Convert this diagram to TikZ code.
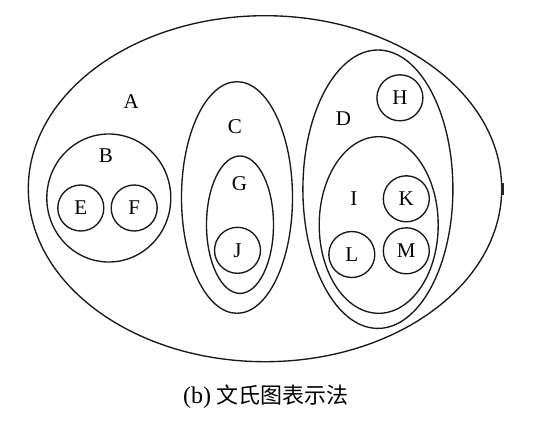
\documentclass[tikz,border=0pt]{standalone}
\usepackage{fontspec}
\setmainfont{Liberation Serif}
\newfontfamily\cjk{Noto Sans CJK SC}
\usetikzlibrary{shapes.geometric}
\begin{document}
\begin{tikzpicture}[x=1pt,y=-1pt,
  set/.style={draw=black!90,line width=1.35pt,ellipse,inner sep=0pt},
  lab/.style={font=\fontsize{21}{25}\selectfont,inner sep=0pt},
  leaf/.style={set,minimum width=46pt,minimum height=46pt,font=\fontsize{21}{25}\selectfont}]
\useasboundingbox (0,0) rectangle (544,426);
% outer set A
\node[set,minimum width=473.4pt,minimum height=346pt] (A) at (265,188.7) {};
\node[lab] (Alab) at (131.2,101.7) {A};
% B
\node[set,minimum width=124pt,minimum height=128pt] (B) at (108.8,198) {};
\node[lab] (Blab) at (105.8,156) {B};
\node[leaf] (E) at (80.8,208) {E};
\node[leaf] (F) at (134.2,208) {F};
% C
\node[set,minimum width=111pt,minimum height=231.6pt] (C) at (237,197.5) {};
\node[lab] (Clab) at (234.9,126.7) {C};
\node[set,minimum width=67pt,minimum height=137.4pt] (G) at (240,224.7) {};
\node[lab] (Glab) at (239.4,183.3) {G};
\node[leaf] (J) at (237.5,250.3) {J};
% D
\node[set,minimum width=150pt,minimum height=278.4pt] (D) at (377.9,189.2) {};
\node[lab] (Dlab) at (343.5,118.3) {D};
\node[leaf] (H) at (399.9,97.8) {H};
\node[set,minimum width=119pt,minimum height=176.6pt] (I) at (378.7,225) {};
\node[lab] (Ilab) at (353.9,198.3) {I};
\node[leaf] (K) at (406.3,198.8) {K};
\node[leaf] (L) at (351.8,254.5) {L};
\node[leaf] (M) at (406.3,250.8) {M};
% small mark on the outer boundary
\draw[line width=2.4pt,black!85] ([yshift=-6pt]A.east) -- ([yshift=6pt]A.east);
% caption
\node[inner sep=0pt,font=\fontsize{24}{29}\selectfont] (cap) at (266,397) {(b) {\cjk\fontsize{22}{27}\selectfont 文氏图表示法}};
\end{tikzpicture}
\end{document}
